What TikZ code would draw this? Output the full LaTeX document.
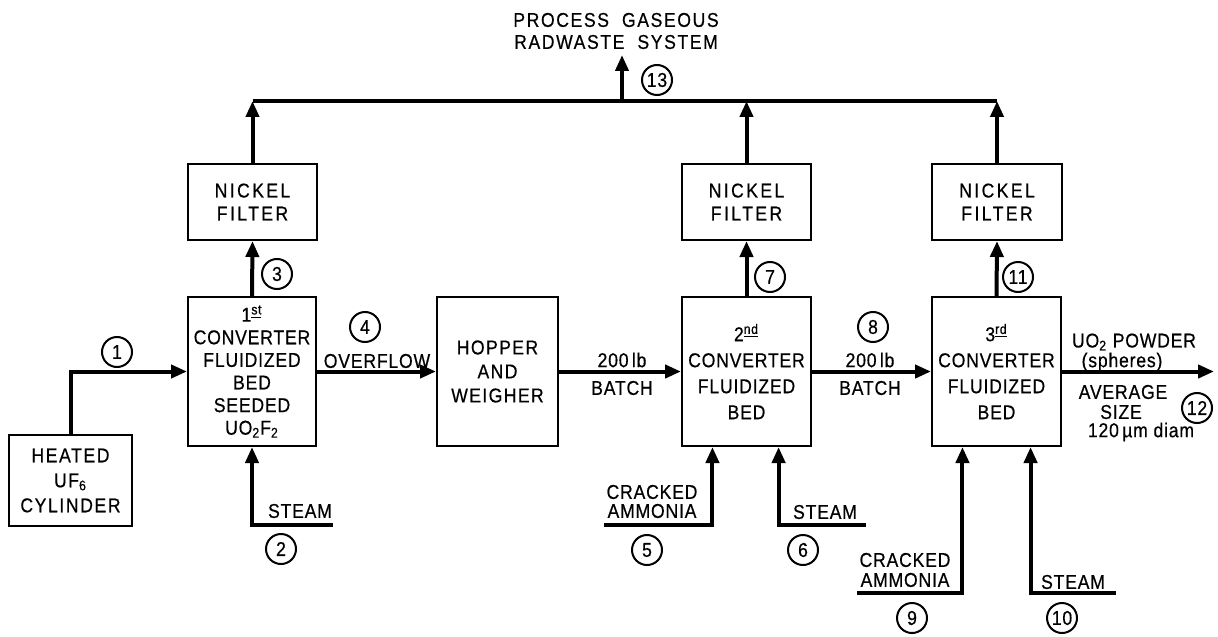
\documentclass[tikz,border=0pt]{standalone}
\usepackage{fontspec}
\setmainfont{Liberation Sans}[FakeStretch=0.88, LetterSpace=4, FakeBold=0.5]
\usetikzlibrary{arrows.meta,calc}
\newcommand{\dfont}{\fontsize{10}{12}\selectfont}
\newcommand{\nfont}{\fontsize{10}{10}\selectfont}
\newcommand{\wfont}{\fontsize{10}{11.5}\selectfont\addfontfeature{LetterSpace=12}}
\begin{document}
\begin{tikzpicture}[x=0.5pt,y=-0.5pt,
  box/.style={draw, line width=1pt, inner sep=0pt, align=center, font=\dfont},
  flow/.style={line width=2pt, -{Triangle[length=8pt,width=6.5pt]}},
  pipe/.style={line width=1.6pt},
  num/.style={draw, circle, line width=1pt, minimum size=15pt, inner sep=0pt, font=\nfont},
  lab/.style={inner sep=0pt, align=center, font=\dfont}]
\useasboundingbox (0,0) rectangle (1218,636);

% boxes
\node[box, minimum width=61.5pt, minimum height=45.5pt, font=\fontsize{10}{12}\selectfont\addfontfeature{LetterSpace=8}] (heat) at (70.5,480.5)
  {HEATED\\[0.5pt]UF\textsubscript{6}\\[0.5pt]CYLINDER};
\node[box, minimum width=64pt, minimum height=74.5pt, font=\fontsize{10}{11.3}\selectfont] (conv1) at (252,371.5)
  {1\textsuperscript{\underline{st}}\\CONVERTER\\FLUIDIZED\\BED\\SEEDED\\UO\textsubscript{2}F\textsubscript{2}};
\node[box, minimum width=60.5pt, minimum height=74.5pt, font=\fontsize{10}{12}\selectfont\addfontfeature{LetterSpace=7}] (hop) at (497.5,371.5)
  {HOPPER\\AND\\WEIGHER};
\node[box, minimum width=64.5pt, minimum height=74.5pt, font=\fontsize{10}{13}\selectfont] (conv2) at (746.5,371.5)
  {2\textsuperscript{\underline{nd}}\\CONVERTER\\FLUIDIZED\\BED};
\node[box, minimum width=64.5pt, minimum height=74.5pt, font=\fontsize{10}{13}\selectfont] (conv3) at (996.5,371.5)
  {3\textsuperscript{\underline{rd}}\\CONVERTER\\FLUIDIZED\\BED};
\node[box, minimum width=64.5pt, minimum height=38pt, font=\wfont] (filt1) at (252.5,202) {NICKEL\\FILTER};
\node[box, minimum width=64.5pt, minimum height=38pt, font=\wfont] (filt2) at (746.5,202) {NICKEL\\FILTER};
\node[box, minimum width=65pt, minimum height=38pt, font=\wfont] (filt3) at (997,202) {NICKEL\\FILTER};

% coordinates
\coordinate (bus1) at (252.5,101);
\coordinate (bus2) at (746.5,101);
\coordinate (bus3) at (997,101);
\coordinate (b13) at (622,101);
\coordinate (t13) at (622,55);
\coordinate (s2) at (333,525);
\coordinate (a5) at (604,525);
\coordinate (s6) at (866,525);
\coordinate (a9) at (857,593);
\coordinate (s10) at (1116,593);
\coordinate (out) at (1214,371.5);

% connectors
\draw[flow] (heat.north) |- (conv1.west);
\draw[flow] (conv1.east) -- (hop.west);
\draw[flow] (hop.east) -- (conv2.west);
\draw[flow] (conv2.east) -- (conv3.west);
\draw[flow] (conv3.east) -- (out);
\draw[flow] (conv1.north) -- (filt1.south);
\draw[flow] (conv2.north) -- (filt2.south);
\draw[flow] (conv3.north) -- (filt3.south);
\draw[flow] (filt1.north) -- (bus1);
\draw[flow] (filt2.north) -- (bus2);
\draw[flow] (filt3.north) -- (bus3);
\draw[pipe] (bus1) -- (bus3);
\draw[flow] (b13) -- (t13);
\draw[flow] (s2) -| (conv1.south);
\draw[flow] (a5) -| ($(conv2.south west)!0.24!(conv2.south east)$);
\draw[flow] (s6) -| ($(conv2.south west)!0.745!(conv2.south east)$);
\draw[flow] (a9) -| ($(conv3.south west)!0.24!(conv3.south east)$);
\draw[flow] (s10) -| ($(conv3.south west)!0.76!(conv3.south east)$);

% numbers
\node[num] (n1) at (117,352) {1};
\node[num] (n2) at (281,549) {2};
\node[num] (n3) at (277,274) {3};
\node[num] (n4) at (365,327) {4};
\node[num] (n5) at (647,550) {5};
\node[num] (n6) at (803,550) {6};
\node[num] (n7) at (770,277) {7};
\node[num] (n8) at (873,327) {8};
\node[num] (n9) at (912,618) {9};
\node[num] (n10) at (1062,618) {10};
\node[num] (n11) at (1018,277) {11};
\node[num] (n12) at (1197,408) {12};
\node[num] (n13) at (657,80) {13};

% labels
\node[lab, font=\fontsize{10}{11}\selectfont\addfontfeature{LetterSpace=8}] (top) at (616,31) {PROCESS\ \ GASEOUS\\RADWASTE\ \ SYSTEM};
\node[lab] (ovf) at (377,361) {OVERFLOW};
\node[lab] (lb1) at (622,360) {200\,lb};
\node[lab] (bt1) at (622,388) {BATCH};
\node[lab] (lb2) at (870,360) {200\,lb};
\node[lab] (bt2) at (870,388) {BATCH};
\node[lab] (st2) at (300,511) {STEAM};
\node[lab, font=\fontsize{10}{9.5}\selectfont] (ca5) at (652,501.5) {CRACKED\\AMMONIA};
\node[lab] (st6) at (825,512) {STEAM};
\node[lab, font=\fontsize{10}{10}\selectfont] (ca9) at (905,570) {CRACKED\\AMMONIA};
\node[lab] (st10) at (1073,582) {STEAM};
\node[lab] (uo) at (1134,342) {UO\textsubscript{2} POWDER};
\node[lab] (sph) at (1122,362) {(spheres)};
\node[lab] (avg) at (1123,392) {AVERAGE};
\node[lab] (sz) at (1121,412) {SIZE};
\node[lab] (dm) at (1141,432) {120\,µm diam};
\end{tikzpicture}
\end{document}
